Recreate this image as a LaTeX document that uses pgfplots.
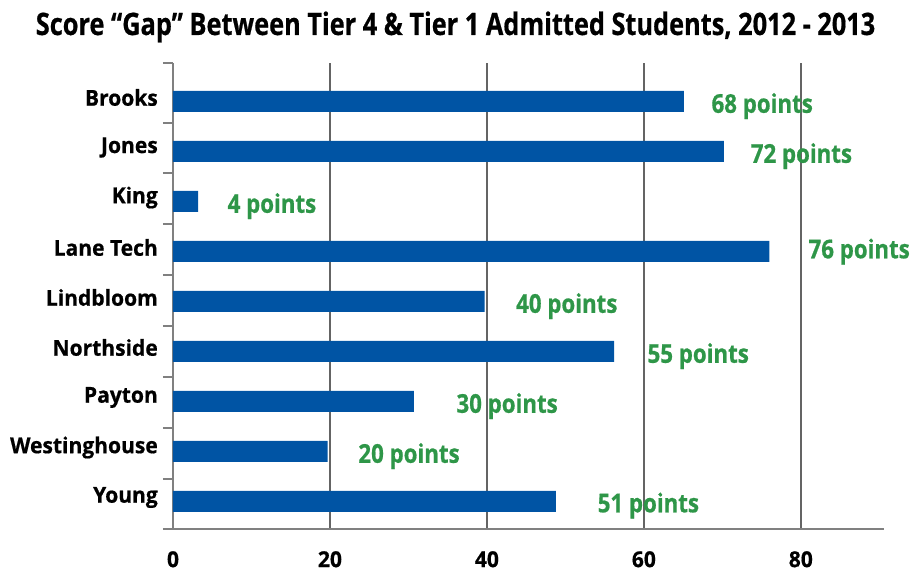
\documentclass[border=0pt]{standalone}
\usepackage{fontspec}
\setmainfont{Open Sans}
\newfontfamily\cond{Open Sans}[FakeStretch=0.96, BoldFeatures={FakeBold=0.6}]
\newfontfamily\lblfont{Open Sans}[FakeStretch=0.86, BoldFeatures={FakeBold=0.7}]
\newfontfamily\titlefont{Open Sans}[FakeStretch=0.82, BoldFeatures={FakeBold=0.6}]
\usepackage{pgfplots}
\pgfplotsset{compat=1.18}
\definecolor{barblue}{RGB}{0,84,164}
\definecolor{lblgreen}{RGB}{46,150,72}
\definecolor{gridgray}{RGB}{100,100,100}
\definecolor{axgray}{RGB}{128,128,128}
\pgfplotstableread{
y x lbl lx ly
8 65.1 68 68.6 7.96
7 70.2 72 73.6 6.96
6 3.2 4 6.94 5.96
5 76.0 76 80.96 5.05
4 39.7 40 43.7 3.96
3 56.2 55 60.45 2.96
2 30.7 30 36.1 1.96
1 19.7 20 23.6 0.96
0 48.8 51 54.1 -0.03
}\gapdata
\begin{document}
\begin{tikzpicture}
\path[use as bounding box] (-173bp,-55bp) rectangle (744bp,529bp);
\begin{axis}[
  at={(0,0)}, anchor=south west,
  scale only axis, width=711bp, height=466bp,
  xmin=0, xmax=90.6, ymin=-0.55, ymax=8.77,
  axis lines*=left,
  axis line style={draw=axgray, line width=2bp, -},
  xtick={0,20,40,60,80},
  xmajorgrids,
  grid style={draw=gridgray, line width=1.8bp},
  xtick style={draw=none},
  ytick style={draw=none},
  ytick={0.08,1.08,2.08,3.08,4.08,5.08,6.08,7.08,8.08},
  yticklabels={Young,Westinghouse,Payton,Northside,Lindbloom,Lane Tech,King,Jones,Brooks},
  extra y ticks={-0.55,0.45,1.47,2.49,3.51,4.53,5.55,6.57,7.57,8.77},
  extra y tick labels={},
  extra y tick style={tick align=outside, major tick length=10bp, ytick style={draw=axgray, line width=2bp}},
  /pgf/number format/assume math mode=true,
  ticklabel style={font=\cond\bfseries\fontsize{22}{22}\selectfont, text=black},
  yticklabel style={inner sep=0pt, anchor=east, xshift=-15bp},
  xticklabel style={inner sep=0pt, anchor=north, yshift=-22bp},
]
\addplot[xbar, bar width=21bp, bar shift=0pt, draw=none, fill=barblue] table[x=x, y=y] {\gapdata};
\addplot[draw=none, point meta=explicit,
  nodes near coords={\pgfmathprintnumber{\pgfplotspointmeta} points},
  every node near coord/.append style={font=\lblfont\bfseries\fontsize{26}{26}\selectfont, text=lblgreen, anchor=base west, yshift=-9.3bp, inner sep=0pt}]
  table[x=lx, y=ly, meta=lbl] {\gapdata};
\end{axis}
\node[anchor=base, font=\titlefont\bfseries\fontsize{31}{31}\selectfont] at (282.5bp,494bp) {Score “Gap” Between Tier 4 \& Tier 1 Admitted Students, 2012 - 2013};
\end{tikzpicture}
\end{document}
